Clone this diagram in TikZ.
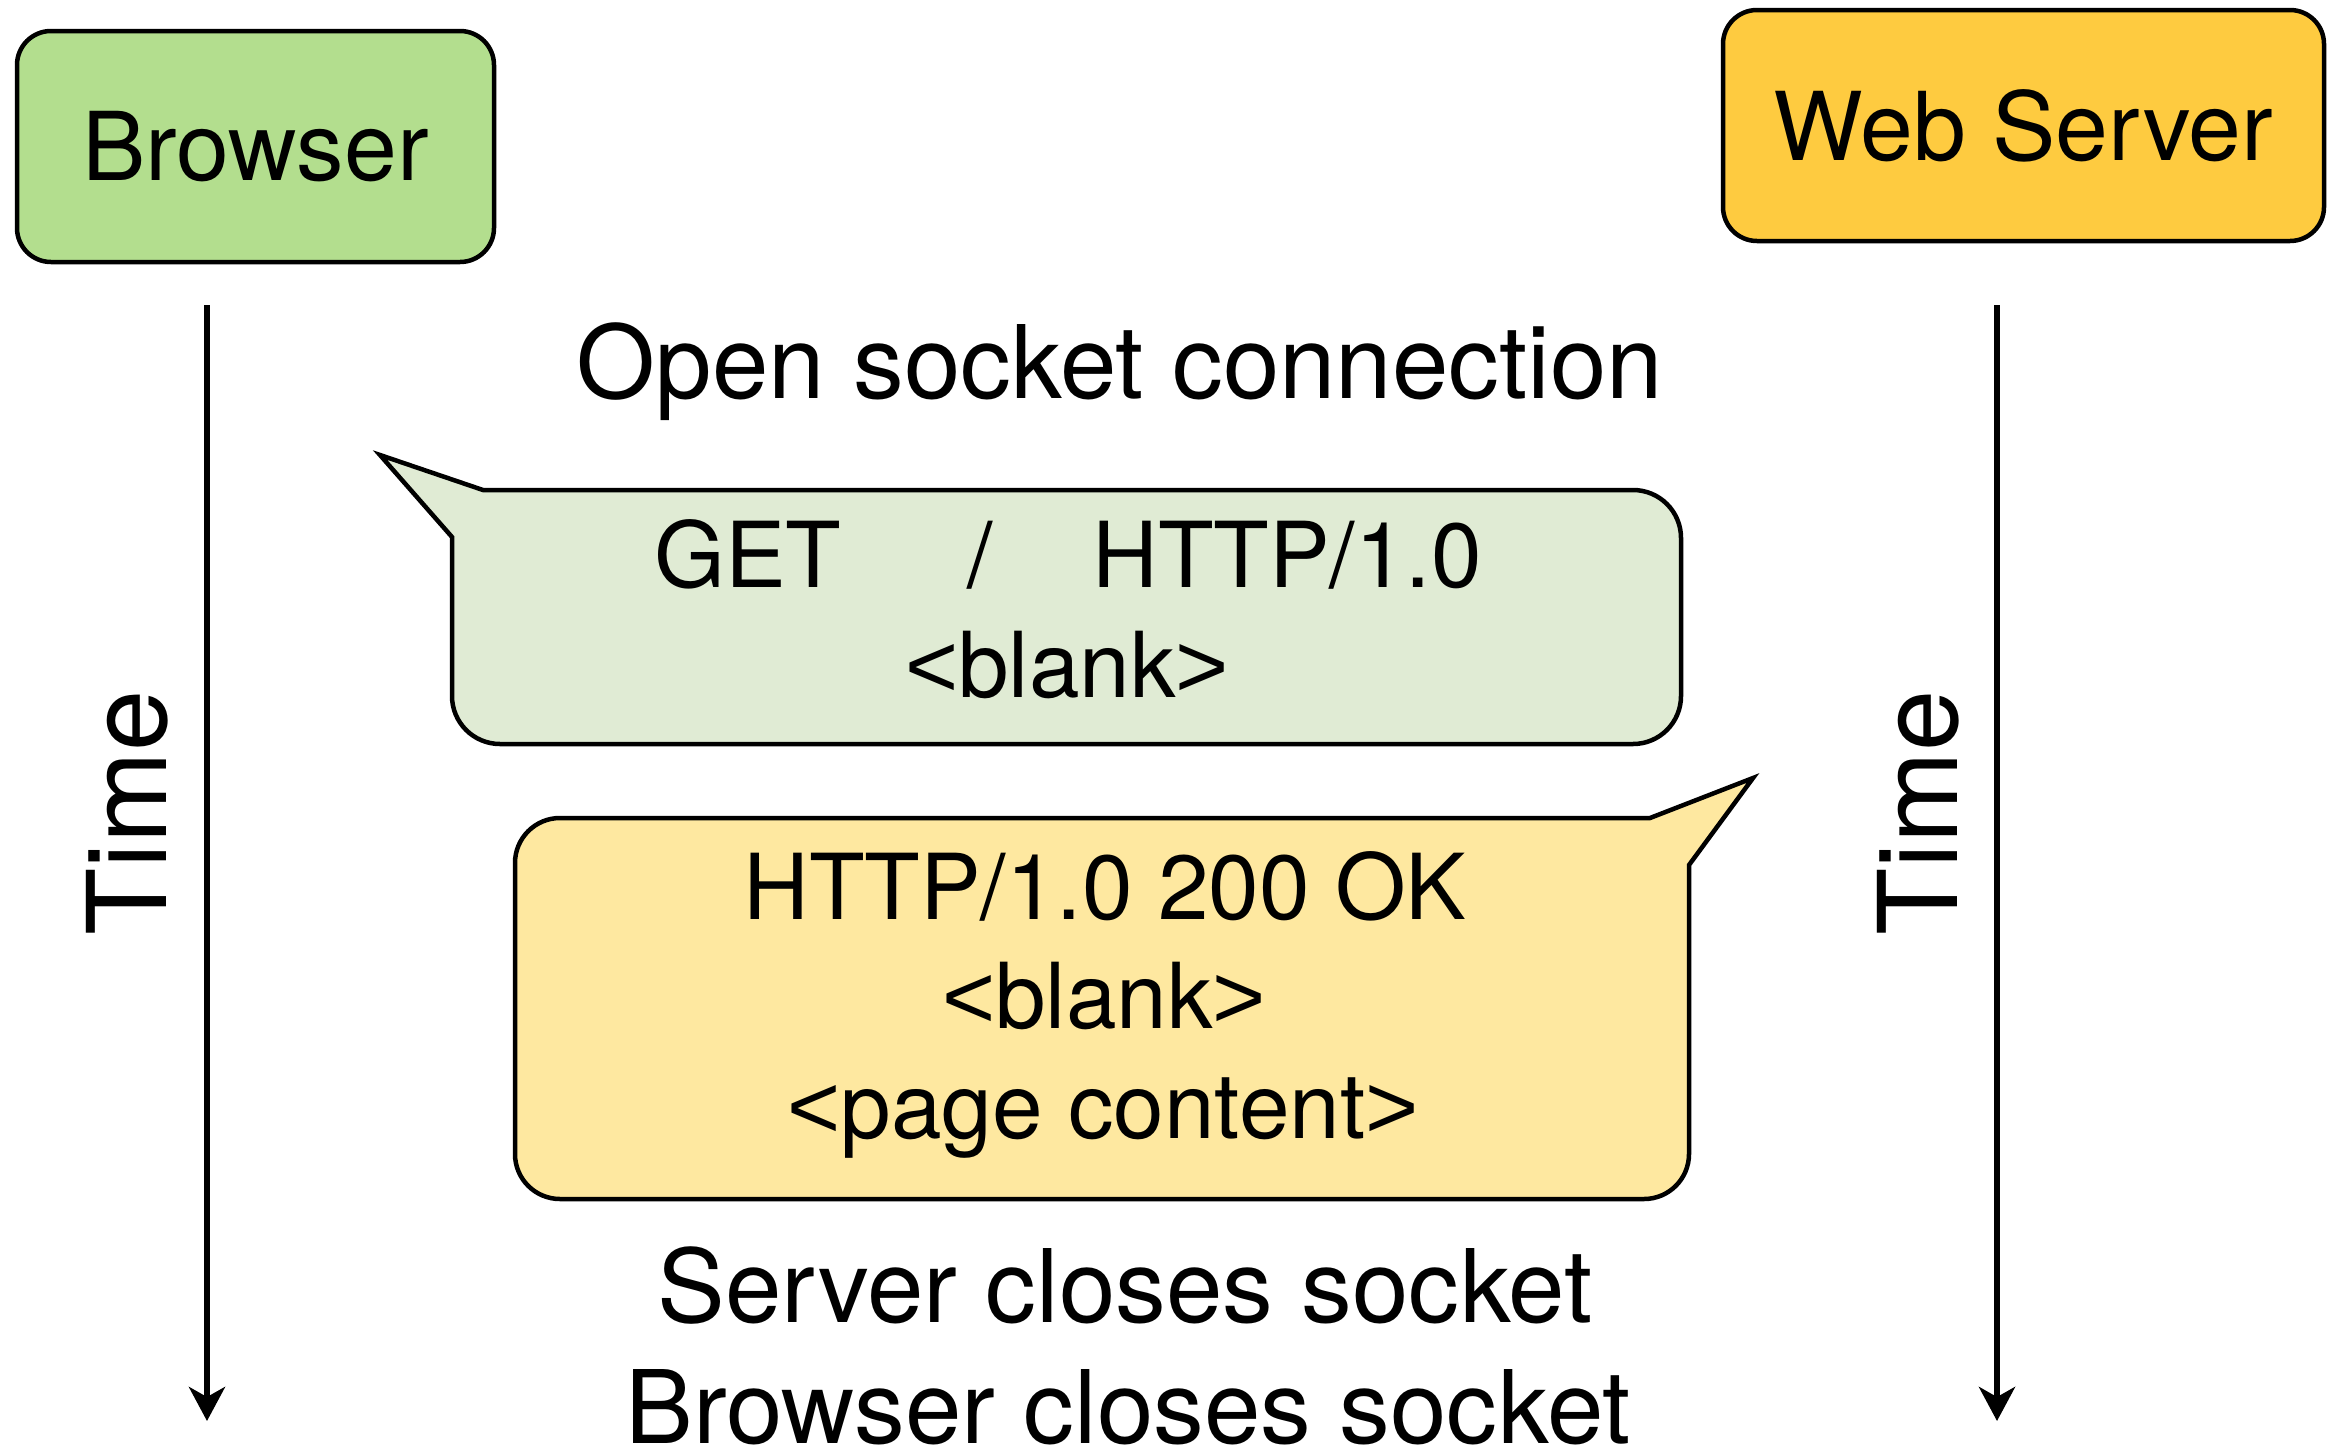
\documentclass[tikz,border=0pt]{standalone}
\usepackage{fontspec}
\setmainfont{TeX Gyre Heros}
\newfontfamily\bracketfont{Liberation Sans}
\usetikzlibrary{arrows.meta}

\definecolor{browserfill}{RGB}{179,222,142}
\definecolor{serverfill}{RGB}{254,203,64}
\definecolor{requestfill}{RGB}{224,235,212}
\definecolor{replyfill}{RGB}{254,232,160}

\newcommand{\fsz}[1]{\fontsize{#1}{#1}\selectfont}
% wide angle brackets around a placeholder word
\newcommand{\placeholder}[1]{{\bracketfont <}#1{\bracketfont >}}

\tikzset{
  party/.style={draw=black, line width=4.5pt, rounded corners=34pt,
    inner sep=0pt, font=\fsz{95}},
  bubble/.style={draw=black, line width=4.5pt, line join=miter},
  msgtext/.style={anchor=base, inner sep=0pt, font=\fsz{91}},
  note/.style={anchor=base, inner sep=0pt, font=\fsz{101.5}},
  timelabel/.style={anchor=base, rotate=90, inner sep=0pt, font=\fsz{110}},
  timeline/.style={line width=6pt, -{Stealth[length=34pt, width=36pt, inset=10pt]}},
}

\begin{document}
\begin{tikzpicture}[x=1pt, y=-1pt]
\useasboundingbox (0,0) rectangle (2333,1451);

% the two parties
\node[party, fill=browserfill, minimum width=477pt, minimum height=231pt]
  (browser) at (255.5,146.5) {Browser};
\node[party, fill=serverfill, minimum width=601pt, minimum height=231pt]
  (server) at (2023.5,125.5) {Web Server};

% time axes
\coordinate (btop) at (207,305);
\coordinate (bend) at (207,1421);
\coordinate (stop) at (1997,305);
\coordinate (send) at (1997,1421);
\draw[timeline] (btop) -- (bend);
\draw[timeline] (stop) -- (send);
\node[timelabel] (btime) at (166,813) {Time};
\node[timelabel] (stime) at (1957,813) {Time};

% connection set-up
\node[note] (open) at (1120,398) {Open socket connection};

% request bubble, pointing to the browser side
\path[bubble, fill=requestfill]
  (452,537) -- (380,455) -- (483,490) -- (1633,490)
  arc[start angle=270, end angle=360, radius=48]
  -- (1681,696) arc[start angle=0, end angle=90, radius=48]
  -- (500,744) arc[start angle=90, end angle=180, radius=48]
  -- cycle;
\node[msgtext] (get) at (748,587) {GET};
\node[msgtext] (slash) at (980,587) {/};
\node[msgtext] (proto) at (1287,587) {HTTP/1.0};
\node[msgtext] (reqblank) at (1067,697) {\placeholder{blank}};

% reply bubble, pointing to the server side
\path[bubble, fill=replyfill]
  (560,818) -- (1650,818) -- (1753,778) -- (1689,865)
  -- (1689,1154) arc[start angle=0, end angle=90, radius=45]
  -- (560,1199) arc[start angle=90, end angle=180, radius=45]
  -- (515,863) arc[start angle=180, end angle=270, radius=45]
  -- cycle;
\node[msgtext] (status) at (1105,919) {HTTP/1.0 200 OK};
\node[msgtext] (repblank) at (1104,1028) {\placeholder{blank}};
\node[msgtext] (content) at (1103,1138) {\placeholder{page content}};

% tear-down
\node[note] (sclose) at (1125,1322) {Server closes socket};
\node[note] (bclose) at (1128,1443) {Browser closes socket};
\end{tikzpicture}
\end{document}
